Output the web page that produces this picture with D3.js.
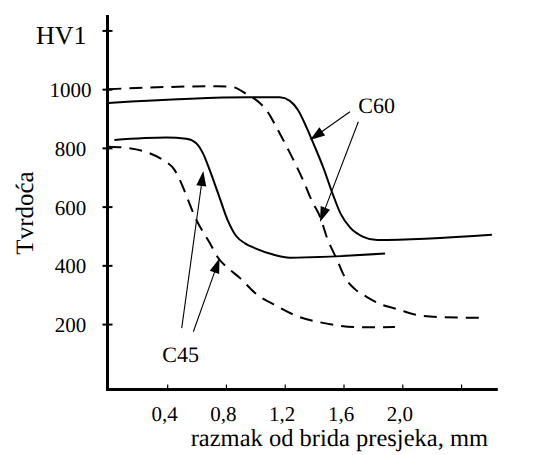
<!DOCTYPE html>
<html>
<head>
<meta charset="utf-8">
<script src="https://cdn.jsdelivr.net/npm/d3@7"></script>
<style>
  html, body { margin: 0; padding: 0; background: #fff; }
  svg { display: block; }
  svg text { fill: #000; text-rendering: geometricPrecision; }
</style>
</head>
<body>
<script>
// ---------- data ----------
const xTickValues = [0.4, 0.8, 1.2, 1.6, 2.0, 2.4];
const xTickLabels = ["0,4", "0,8", "1,2", "1,6", "2,0", ""];
const yTickValues = [200, 400, 600, 800, 1000, 1200];
const yTickLabels = ["200", "400", "600", "800", "1000", ""];

// C60 – solid (hardness HV1 vs distance mm)
const c60Solid = [[0, 953], [0.96, 972], [1.166, 972], [1.235, 960], [1.29, 929], [1.35, 868],
  [1.385, 827], [1.46, 736], [1.528, 641], [1.58, 576], [1.644, 529], [1.73, 498],
  [1.83, 486], [2.61, 504]];
// C60 – dashed
const c60Dashed = [[0, 1000], [0.737, 1010], [0.846, 1007], [0.94, 983], [1.03, 953],
  [1.085, 922], [1.146, 868], [1.235, 783], [1.323, 692], [1.39, 614], [1.44, 566],
  [1.487, 495], [1.555, 420], [1.61, 359], [1.678, 319], [1.76, 292], [1.85, 268],
  [1.965, 251], [2.10, 231], [2.258, 224], [2.57, 221]];
// C45 – solid
const c45Solid = [[0.041, 827], [0.394, 835], [0.53, 831], [0.598, 816], [0.643, 782],
  [0.689, 725], [0.746, 646], [0.81, 556], [0.871, 499], [0.93, 475], [1.0, 458],
  [1.12, 437], [1.235, 426], [1.883, 440]];
// C45 – dashed
const c45Dashed = [[0, 804], [0.143, 799], [0.28, 782], [0.371, 759], [0.45, 725],
  [0.496, 680], [0.541, 624], [0.587, 567], [0.689, 477], [0.746, 426], [0.825, 386],
  [0.893, 358], [1.007, 302], [1.144, 262], [1.28, 228], [1.44, 206], [1.576, 194],
  [1.735, 189], [1.95, 190]];

// annotation arrows: [start, tip] in data units
const c60Arrows = [[[1.644, 923], [1.372, 827]], [[1.701, 889], [1.44, 548]]];
const c45Arrows = [[[0.499, 186], [0.646, 721]], [[0.578, 174], [0.756, 424]]];
const seriesLabels = [{ text: "C60", at: [1.701, 919], anchor: "start" },
                      { text: "C45", at: [0.491, 71], anchor: "middle" }];

// ---------- layout ----------
const FONT = "'Liberation Serif', 'Times New Roman', 'DejaVu Serif', serif";
const W = 535, H = 455;
const yAxisX = 107.5, xAxisY = 389.5, yAxisTop = 15;
const svg = d3.select("body").append("svg").attr("width", W).attr("height", H);

const x = d3.scaleLinear().domain([0, 2.65]).range([108.4, 497.8]);
const y = d3.scaleLinear().domain([0, 1000]).range([382.8, 89.15]);

// ---------- x axis ----------
const xAxis = d3.axisBottom(x).tickValues(xTickValues)
  .tickSizeInner(-5).tickSizeOuter(0)
  .tickFormat((d, i) => xTickLabels[i]);
const gx = svg.append("g").attr("transform", `translate(0,${xAxisY})`).call(xAxis)
  .attr("font-family", FONT);
gx.select(".domain").remove();
gx.selectAll(".tick line").attr("stroke", "#000").attr("stroke-width", 1.2);
gx.selectAll(".tick text").attr("y", 31.5).attr("dy", 0).attr("dx", -3)
  .attr("font-size", 21).attr("font-family", FONT);
svg.append("line").attr("x1", yAxisX - 1.5).attr("x2", x(2.65)).attr("y1", xAxisY).attr("y2", xAxisY)
  .attr("stroke", "#000").attr("stroke-width", 3);

// ---------- y axis ----------
const yAxis = d3.axisLeft(y).tickValues(yTickValues)
  .tickSizeInner(5).tickSizeOuter(0)
  .tickFormat((d, i) => yTickLabels[i]);
const gy = svg.append("g").attr("transform", `translate(${yAxisX},0)`).call(yAxis)
  .attr("font-family", FONT);
gy.select(".domain").remove();
gy.selectAll(".tick line").attr("x1", 5).attr("x2", -5).attr("stroke", "#000").attr("stroke-width", 2);
gy.selectAll(".tick text").attr("x", -37).attr("text-anchor", "middle").attr("dy", "0.36em")
  .attr("font-size", 21).attr("font-family", FONT);
svg.append("line").attr("x1", yAxisX).attr("x2", yAxisX).attr("y1", yAxisTop).attr("y2", xAxisY + 1.5)
  .attr("stroke", "#000").attr("stroke-width", 3);

// ---------- axis titles ----------
svg.append("text").attr("x", 36).attr("y", 44).attr("font-size", 26)
  .attr("font-family", FONT).text("HV1");
svg.append("g").attr("transform", "translate(32.5,213) rotate(-90)")
  .append("text").attr("x", 0).attr("y", 0)
  .attr("text-anchor", "middle").attr("font-size", 25)
  .attr("font-family", FONT).style("fill", "black").text("Tvrdoća");
svg.append("text").attr("x", 488).attr("y", 446).attr("text-anchor", "end")
  .attr("font-size", 24.5).attr("font-family", FONT)
  .text("razmak od brida presjeka, mm");

// ---------- curves ----------
const line = d3.line().x(d => x(d[0])).y(d => y(d[1])).curve(d3.curveMonotoneX);
const curves = [
  { data: c60Solid, dash: null },
  { data: c60Dashed, dash: "13,8" },
  { data: c45Solid, dash: null },
  { data: c45Dashed, dash: "13,8" }
];
svg.selectAll("path.curve").data(curves).enter().append("path")
  .attr("class", "curve")
  .attr("d", d => line(d.data))
  .attr("fill", "none").attr("stroke", "#000").attr("stroke-width", 2)
  .attr("stroke-dasharray", d => d.dash);

// ---------- arrows ----------
function drawArrow(a) {
  const sx = x(a[0][0]), sy = y(a[0][1]), tx = x(a[1][0]), ty = y(a[1][1]);
  const dx = tx - sx, dy = ty - sy, len = Math.hypot(dx, dy);
  const ux = dx / len, uy = dy / len, nx = -uy, ny = ux;
  const L = 15, w = 5;
  svg.append("line").attr("x1", sx).attr("y1", sy)
    .attr("x2", tx - ux * L * 0.8).attr("y2", ty - uy * L * 0.8)
    .attr("stroke", "#000").attr("stroke-width", 1.1);
  const bx = tx - ux * L, by = ty - uy * L;
  svg.append("path")
    .attr("d", `M${tx},${ty}L${bx + nx * w},${by + ny * w}L${bx - nx * w},${by - ny * w}Z`)
    .attr("fill", "#000");
}
c60Arrows.forEach(drawArrow);
c45Arrows.forEach(drawArrow);

svg.selectAll("text.slabel").data(seriesLabels).enter().append("text")
  .attr("class", "slabel")
  .attr("x", d => x(d.at[0])).attr("y", d => y(d.at[1]))
  .attr("text-anchor", d => d.anchor)
  .attr("font-family", FONT)
  .attr("font-size", 22).text(d => d.text);
</script>
</body>
</html>
